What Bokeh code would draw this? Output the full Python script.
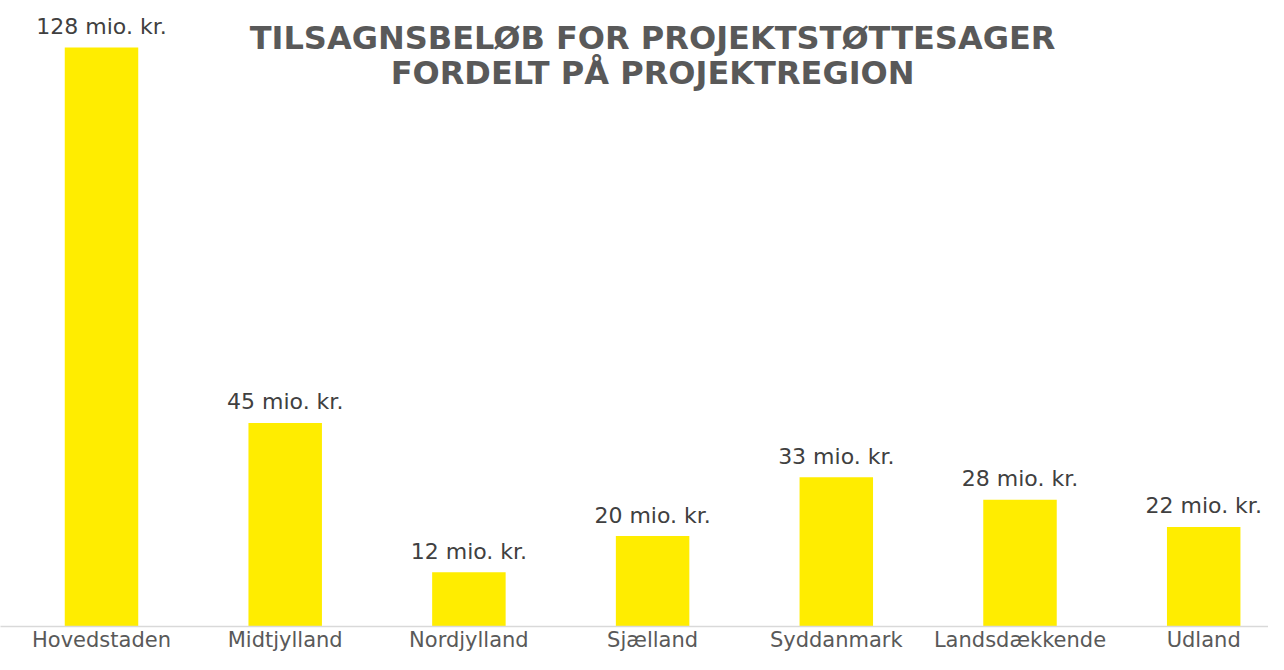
from bokeh.plotting import figure
from bokeh.models import ColumnDataSource, Range1d, FixedTicker, Label
from bokeh.embed import file_html
from bokeh.resources import INLINE
from bokeh.core.properties import value

categories = ["Hovedstaden", "Midtjylland", "Nordjylland", "Sjælland",
              "Syddanmark", "Landsdækkende", "Udland"]
amounts = [128, 45, 12, 20, 33, 28, 22]
value_labels = [f"{v} mio. kr." for v in amounts]
title_lines = ["TILSAGNSBELØB FOR PROJEKTSTØTTESAGER", "FORDELT PÅ PROJEKTREGION"]

idx = list(range(len(categories)))
src = ColumnDataSource(dict(x=idx, top=amounts, label=value_labels))

FONT = "DejaVu Sans"
W, H = 1268, 654
px_per_cat = 183.7
x_start = -101 / px_per_cat
x_end = x_start + W / px_per_cat
B = 627.0                      # expected frame height in px
y_end = 128 * B / (B - 47)

def y_at(px):
    return y_end * (B - px) / B

p = figure(width=W, height=H, output_backend="svg", toolbar_location=None,
           x_range=Range1d(x_start, x_end), y_range=Range1d(0, y_end),
           min_border_left=0, min_border_right=0, min_border_top=0, min_border_bottom=0)
p.outline_line_color = None
p.background_fill_color = "white"
p.border_fill_color = "white"
p.xgrid.visible = False
p.ygrid.visible = False
p.yaxis.visible = False

p.vbar(x="x", top="top", bottom=0, width=0.4, source=src,
       fill_color="#FFED00", line_color=None)

p.text(x="x", y="top", text="label", source=src,
       text_align="center", text_baseline="alphabetic", y_offset=-21,
       text_font=value(FONT), text_font_size="22px", text_color="#404040")

ax = p.xaxis[0]
ax.ticker = FixedTicker(ticks=idx)
ax.major_label_overrides = {i: c for i, c in zip(idx, categories)}
ax.major_label_text_font = FONT
ax.major_label_text_font_size = "21px"
ax.major_label_text_color = "#595959"
ax.major_label_standoff = 1
ax.major_tick_line_color = None
ax.minor_tick_line_color = None
ax.major_tick_out = 0
ax.major_tick_in = 0
ax.axis_line_color = "#d9d9d9"
ax.axis_line_width = 1.5

mid = (len(categories) - 1) / 2
for line, ypx in zip(title_lines, [38, 72.5]):
    p.add_layout(Label(x=mid, y=y_at(ypx), text=line, text_align="center",
                       text_baseline="alphabetic", text_font=FONT,
                       text_font_size="32px", text_font_style="bold",
                       text_color="#595959"))

open("out.html", "w").write(file_html(p, INLINE))
